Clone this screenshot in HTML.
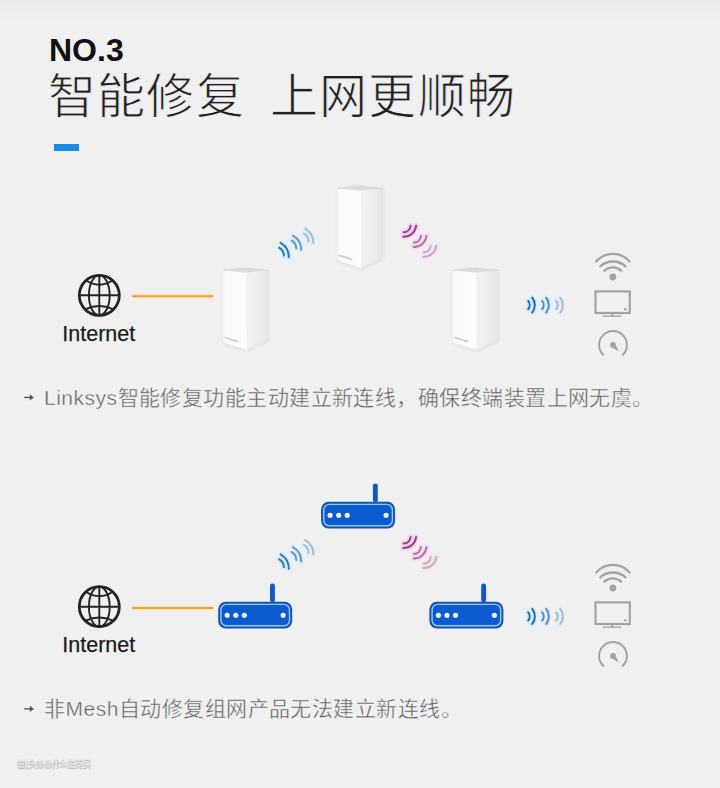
<!DOCTYPE html>
<html lang="zh-CN">
<head>
<meta charset="utf-8">
<style>
html,body{margin:0;padding:0;}
body{width:720px;height:788px;overflow:hidden;position:relative;
 background:linear-gradient(#e9e9e9 0px,#eeeeee 12px,#f0f0f0 22px,#f0f0f0 100%);
 font-family:"Liberation Sans",sans-serif;}
.t{position:absolute;white-space:nowrap;line-height:1;}
#no{left:49px;top:34px;font-size:32px;font-weight:bold;color:#111;}
#h1{left:48px;top:73px;font-size:48px;letter-spacing:1.2px;color:#222;-webkit-text-stroke:0.9px #f0f0f0;}
#h2{left:270px;top:73px;font-size:48px;letter-spacing:1.2px;color:#222;-webkit-text-stroke:0.9px #f0f0f0;}
#bar{position:absolute;left:54px;top:144px;width:25px;height:7px;background:#1a8be0;}
.inet{font-size:21.5px;color:#1c1c1c;-webkit-text-stroke:0.25px #1c1c1c;}
#in1{left:62.3px;top:324.3px;}
#in2{left:62.3px;top:635.45px;}
.cap{font-size:21px;color:#5e5e5e;letter-spacing:0.45px;-webkit-text-stroke:0.4px #f0f0f0;}
.cap b{font-weight:normal;letter-spacing:0.5px;}
#c1{left:44px;top:387px;}
#c2{left:44px;top:698px;}
#wm{left:16px;top:759.5px;font-size:8.6px;letter-spacing:-1.1px;color:#fbfbfb;text-shadow:0.5px 0.5px 1px #909090,0 0 1px #b4b4b4;}
svg{position:absolute;left:0;top:0;}
</style>
</head>
<body>
<div class="t" id="no">NO.3</div>
<div class="t" id="h1">智能修复</div>
<div class="t" id="h2">上网更顺畅</div>
<div id="bar"></div>

<svg width="720" height="788" viewBox="0 0 720 788">
<defs>
 <linearGradient id="gtop" x1="0" y1="0" x2="1" y2="0">
  <stop offset="0" stop-color="#e2e2e2"/>
  <stop offset="0.5" stop-color="#dadada"/>
  <stop offset="1" stop-color="#e2e2e2"/>
 </linearGradient>
 <linearGradient id="gright" x1="0" y1="0" x2="1" y2="0">
  <stop offset="0" stop-color="#f2f2f2"/>
  <stop offset="0.6" stop-color="#ececec"/>
  <stop offset="1" stop-color="#e5e5e5"/>
 </linearGradient>
 <filter id="sh" x="-20%" y="-20%" width="140%" height="140%">
  <feDropShadow dx="0" dy="0.5" stdDeviation="1.2" flood-color="#000" flood-opacity="0.10"/>
 </filter>
 <linearGradient id="gleft" x1="0" y1="0" x2="1" y2="0">
  <stop offset="0" stop-color="#f2f2f2"/>
  <stop offset="0.12" stop-color="#fafafa"/>
  <stop offset="1" stop-color="#fcfcfc"/>
 </linearGradient>
</defs>

<!-- diagram 1 -->
<g transform="translate(99.3,295.3)" fill="none" stroke="#242424">
  <circle cx="0" cy="0" r="20" stroke-width="2.8"/>
  <g stroke-width="1.9">
  <ellipse cx="0" cy="0" rx="10.4" ry="20"/>
  <line x1="0" y1="-20" x2="0" y2="20"/>
  <line x1="-20" y1="0" x2="20" y2="0"/>
  <path d="M-13.6,-15 Q0,-6.1 13.6,-15"/>
  <path d="M-13.6,13.9 Q0,7.6 13.6,13.9"/>
  </g>
 </g>
<line x1="132.2" y1="296.2" x2="213.2" y2="296.2" stroke="#fde4ad" stroke-width="4"/>
<line x1="132.2" y1="296.2" x2="213.2" y2="296.2" stroke="#eba13c" stroke-width="2"/>
<g transform="translate(222,269)">
  <g filter="url(#sh)">
  <path d="M0.6,1.4 L21.7,-1.2 L47.2,1.4 L47.2,70.4 Q47.2,72 45.6,72.6 L24.8,81.7 L4.2,75.4 Q0.6,74.2 0.6,71.2 Z" fill="#f6f6f6"/>
  </g>
  <path d="M0.6,1.4 L24.4,3.6 L24.8,81.7 L4.2,75.4 Q0.6,74.2 0.6,71.2 Z" fill="url(#gleft)"/>
  <path d="M24.4,3.6 L47.2,1.4 L47.2,70.4 Q47.2,72 45.6,72.6 L24.8,81.7 Z" fill="url(#gright)"/>
  <path d="M0.8,1.5 L22.5,-1 L47,1.5 L24.4,3.5 Z" fill="url(#gtop)"/>
  <path d="M1.2,1.5 L21.7,-0.8 L46.6,1.5" fill="none" stroke="#d2d2d2" stroke-width="0.8"/>
  <path d="M3.4,68.6 L15.4,72.4" stroke="#c9c9c9" stroke-width="2" stroke-linecap="round" opacity="0.85"/>
  <path d="M1.6,72.8 Q2.2,74.4 4.6,75.1 L24.5,81.2 L45.6,72.3" fill="none" stroke="#e0e0e0" stroke-width="0.9"/>
 </g>
<g transform="translate(336.3,187)">
  <g filter="url(#sh)">
  <path d="M0.6,1.4 L21.7,-1.2 L47.2,1.4 L47.2,70.4 Q47.2,72 45.6,72.6 L24.8,81.7 L4.2,75.4 Q0.6,74.2 0.6,71.2 Z" fill="#f6f6f6"/>
  </g>
  <path d="M0.6,1.4 L24.4,3.6 L24.8,81.7 L4.2,75.4 Q0.6,74.2 0.6,71.2 Z" fill="url(#gleft)"/>
  <path d="M24.4,3.6 L47.2,1.4 L47.2,70.4 Q47.2,72 45.6,72.6 L24.8,81.7 Z" fill="url(#gright)"/>
  <path d="M0.8,1.5 L22.5,-1 L47,1.5 L24.4,3.5 Z" fill="url(#gtop)"/>
  <path d="M1.2,1.5 L21.7,-0.8 L46.6,1.5" fill="none" stroke="#d2d2d2" stroke-width="0.8"/>
  <path d="M3.4,68.6 L15.4,72.4" stroke="#c9c9c9" stroke-width="2" stroke-linecap="round" opacity="0.85"/>
  <path d="M1.6,72.8 Q2.2,74.4 4.6,75.1 L24.5,81.2 L45.6,72.3" fill="none" stroke="#e0e0e0" stroke-width="0.9"/>
 </g>
<g transform="translate(451.8,269)">
  <g filter="url(#sh)">
  <path d="M0.6,1.4 L21.7,-1.2 L47.2,1.4 L47.2,70.4 Q47.2,72 45.6,72.6 L24.8,81.7 L4.2,75.4 Q0.6,74.2 0.6,71.2 Z" fill="#f6f6f6"/>
  </g>
  <path d="M0.6,1.4 L24.4,3.6 L24.8,81.7 L4.2,75.4 Q0.6,74.2 0.6,71.2 Z" fill="url(#gleft)"/>
  <path d="M24.4,3.6 L47.2,1.4 L47.2,70.4 Q47.2,72 45.6,72.6 L24.8,81.7 Z" fill="url(#gright)"/>
  <path d="M0.8,1.5 L22.5,-1 L47,1.5 L24.4,3.5 Z" fill="url(#gtop)"/>
  <path d="M1.2,1.5 L21.7,-0.8 L46.6,1.5" fill="none" stroke="#d2d2d2" stroke-width="0.8"/>
  <path d="M3.4,68.6 L15.4,72.4" stroke="#c9c9c9" stroke-width="2" stroke-linecap="round" opacity="0.85"/>
  <path d="M1.6,72.8 Q2.2,74.4 4.6,75.1 L24.5,81.2 L45.6,72.3" fill="none" stroke="#e0e0e0" stroke-width="0.9"/>
 </g>
<g fill="none" stroke-linecap="round">
  <g>
   <g stroke="#d3eefc" stroke-width="6" opacity="0.8">
    <path d="M280.6,242.9 A16.5,16.5 0 0 1 288.8,257.3"/>
    <path d="M279.3,247.8 A9.2,9.2 0 0 1 283.9,255.6"/>
   </g>
   <g stroke="#2a76bd" stroke-width="2">
    <path d="M280.6,242.9 A16.5,16.5 0 0 1 288.8,257.3"/>
    <path d="M279.3,247.8 A9.2,9.2 0 0 1 283.9,255.6"/>
   </g>
  </g>
  <g transform="translate(12.4,-7.2)">
   <g stroke="#d8eefa" stroke-width="6" opacity="0.7">
    <path d="M280.6,242.9 A16.5,16.5 0 0 1 288.8,257.3"/>
    <path d="M279.3,247.8 A9.2,9.2 0 0 1 283.9,255.6"/>
   </g>
   <g stroke="#6198c9" stroke-width="2">
    <path d="M280.6,242.9 A16.5,16.5 0 0 1 288.8,257.3"/>
    <path d="M279.3,247.8 A9.2,9.2 0 0 1 283.9,255.6"/>
   </g>
  </g>
  <g transform="translate(24.6,-14.3)">
   <g stroke="#e0eef7" stroke-width="6" opacity="0.6">
    <path d="M280.6,242.9 A16.5,16.5 0 0 1 288.8,257.3"/>
    <path d="M279.3,247.8 A9.2,9.2 0 0 1 283.9,255.6"/>
   </g>
   <g stroke="#a2bfd8" stroke-width="2">
    <path d="M280.6,242.9 A16.5,16.5 0 0 1 288.8,257.3"/>
    <path d="M279.3,247.8 A9.2,9.2 0 0 1 283.9,255.6"/>
   </g>
  </g>
 </g>
<g fill="none" stroke-linecap="round">
  <g>
   <g stroke="#f8d2f0" stroke-width="6" opacity="0.85">
    <path d="M416.1,225.7 A12.3,12.3 0 0 1 403.3,236.8"/>
    <path d="M410.6,225.7 A7,7 0 0 1 403.6,232.3"/>
   </g>
   <g stroke="#9b4089" stroke-width="2">
    <path d="M416.1,225.7 A12.3,12.3 0 0 1 403.3,236.8"/>
    <path d="M410.6,225.7 A7,7 0 0 1 403.6,232.3"/>
   </g>
  </g>
  <g transform="translate(10.3,10.3)">
   <g stroke="#f8d8f2" stroke-width="6" opacity="0.75">
    <path d="M416.1,225.7 A12.3,12.3 0 0 1 403.3,236.8"/>
    <path d="M410.6,225.7 A7,7 0 0 1 403.6,232.3"/>
   </g>
   <g stroke="#b174a8" stroke-width="2">
    <path d="M416.1,225.7 A12.3,12.3 0 0 1 403.3,236.8"/>
    <path d="M410.6,225.7 A7,7 0 0 1 403.6,232.3"/>
   </g>
  </g>
  <g transform="translate(20.2,20)">
   <g stroke="#f6e0f3" stroke-width="6" opacity="0.6">
    <path d="M416.1,225.7 A12.3,12.3 0 0 1 403.3,236.8"/>
    <path d="M410.6,225.7 A7,7 0 0 1 403.6,232.3"/>
   </g>
   <g stroke="#cfa6c8" stroke-width="2">
    <path d="M416.1,225.7 A12.3,12.3 0 0 1 403.3,236.8"/>
    <path d="M410.6,225.7 A7,7 0 0 1 403.6,232.3"/>
   </g>
  </g>
 </g>
<g fill="none" stroke-linecap="round">
  <g>
   <g stroke="#d3eefc" stroke-width="6" opacity="0.8">
    <path d="M528.2,300.9 A6.4,6.4 0 0 1 528.2,309.1"/>
    <path d="M532.2,297.5 A12,12 0 0 1 532.2,312.5"/>
   </g>
   <g stroke="#2068ad" stroke-width="2">
    <path d="M528.2,300.9 A6.4,6.4 0 0 1 528.2,309.1"/>
    <path d="M532.2,297.5 A12,12 0 0 1 532.2,312.5"/>
   </g>
  </g>
  <g transform="translate(14,0)">
   <g stroke="#d8eefa" stroke-width="6" opacity="0.7">
    <path d="M528.2,300.9 A6.4,6.4 0 0 1 528.2,309.1"/>
    <path d="M532.2,297.5 A12,12 0 0 1 532.2,312.5"/>
   </g>
   <g stroke="#5589bb" stroke-width="2">
    <path d="M528.2,300.9 A6.4,6.4 0 0 1 528.2,309.1"/>
    <path d="M532.2,297.5 A12,12 0 0 1 532.2,312.5"/>
   </g>
  </g>
  <g transform="translate(28,0)">
   <g stroke="#e0eef7" stroke-width="6" opacity="0.6">
    <path d="M528.2,300.9 A6.4,6.4 0 0 1 528.2,309.1"/>
    <path d="M532.2,297.5 A12,12 0 0 1 532.2,312.5"/>
   </g>
   <g stroke="#9fbad3" stroke-width="2">
    <path d="M528.2,300.9 A6.4,6.4 0 0 1 528.2,309.1"/>
    <path d="M532.2,297.5 A12,12 0 0 1 532.2,312.5"/>
   </g>
  </g>
 </g>
<g fill="none" stroke="#a4a4a4">
  <g stroke-width="2.3" stroke-linecap="round">
   <path d="M596.2,261.6 A22.1,22.1 0 0 1 629.6,261.6"/>
   <path d="M600.3,266.3 A18.9,18.9 0 0 1 625.5,266.3"/>
   <path d="M604.4,270.7 A12.3,12.3 0 0 1 621.2,270.7"/>
  </g>
  <circle cx="612.9" cy="277" r="3.4" fill="#a4a4a4" stroke="none"/>
  <rect x="595.5" y="291.4" width="34.3" height="21.6" stroke-width="2.2"/>
  <circle cx="625.3" cy="309.3" r="1.25" fill="#a4a4a4" stroke="none"/>
  <rect x="611.4" y="313.5" width="1.9" height="2.6" fill="#a4a4a4" stroke="none"/>
  <line x1="602.5" y1="316.2" x2="621.5" y2="316.2" stroke-width="1.3"/>
  <path d="M603.2,354.8 A13.9,13.9 0 1 1 622.8,354.8" stroke-width="2" stroke-linecap="round"/>
  <g fill="#a4a4a4" stroke="none">
   <circle cx="612.9" cy="344.8" r="2.9"/>
   <polygon points="610.7,346.7 615.1,343 618.6,351.6"/>
  </g>
 </g>

<!-- diagram 2 -->
<g transform="translate(99.3,606.7)" fill="none" stroke="#242424">
  <circle cx="0" cy="0" r="20" stroke-width="2.8"/>
  <g stroke-width="1.9">
  <ellipse cx="0" cy="0" rx="10.4" ry="20"/>
  <line x1="0" y1="-20" x2="0" y2="20"/>
  <line x1="-20" y1="0" x2="20" y2="0"/>
  <path d="M-13.6,-15 Q0,-6.1 13.6,-15"/>
  <path d="M-13.6,13.9 Q0,7.6 13.6,13.9"/>
  </g>
 </g>
<line x1="132.2" y1="608" x2="213.2" y2="608" stroke="#fde4ad" stroke-width="4"/>
<line x1="132.2" y1="608" x2="213.2" y2="608" stroke="#eba53e" stroke-width="2"/>
<g transform="translate(321.1,501.8)">
  <rect x="0" y="0" width="74" height="26.6" rx="7.5" fill="#1453b3"/>
  <rect x="2.7" y="2.6" width="68.6" height="21.4" rx="5.6" fill="#0c5bd0" stroke="#93cbf6" stroke-width="1.4"/>
  <rect x="51.8" y="-18.4" width="4.9" height="19" rx="2.45" fill="#1358c0"/>
  <g fill="#f4faff">
   <circle cx="9" cy="13.4" r="2.55"/>
   <circle cx="17.6" cy="13.4" r="2.55"/>
   <circle cx="26.1" cy="13.4" r="2.55"/>
   <circle cx="65" cy="13.4" r="2.55"/>
  </g>
 </g>
<g transform="translate(218.2,601.8)">
  <rect x="0" y="0" width="74" height="26.6" rx="7.5" fill="#1453b3"/>
  <rect x="2.7" y="2.6" width="68.6" height="21.4" rx="5.6" fill="#0c5bd0" stroke="#93cbf6" stroke-width="1.4"/>
  <rect x="51.8" y="-18.4" width="4.9" height="19" rx="2.45" fill="#1358c0"/>
  <g fill="#f4faff">
   <circle cx="9" cy="13.4" r="2.55"/>
   <circle cx="17.6" cy="13.4" r="2.55"/>
   <circle cx="26.1" cy="13.4" r="2.55"/>
   <circle cx="65" cy="13.4" r="2.55"/>
  </g>
 </g>
<g transform="translate(429.4,601.8)">
  <rect x="0" y="0" width="74" height="26.6" rx="7.5" fill="#1453b3"/>
  <rect x="2.7" y="2.6" width="68.6" height="21.4" rx="5.6" fill="#0c5bd0" stroke="#93cbf6" stroke-width="1.4"/>
  <rect x="51.8" y="-18.4" width="4.9" height="19" rx="2.45" fill="#1358c0"/>
  <g fill="#f4faff">
   <circle cx="9" cy="13.4" r="2.55"/>
   <circle cx="17.6" cy="13.4" r="2.55"/>
   <circle cx="26.1" cy="13.4" r="2.55"/>
   <circle cx="65" cy="13.4" r="2.55"/>
  </g>
 </g>
<g transform="translate(0,311.5)" fill="none" stroke-linecap="round">
  <g>
   <g stroke="#d3eefc" stroke-width="6" opacity="0.8">
    <path d="M280.6,242.9 A16.5,16.5 0 0 1 288.8,257.3"/>
    <path d="M279.3,247.8 A9.2,9.2 0 0 1 283.9,255.6"/>
   </g>
   <g stroke="#2a76bd" stroke-width="2">
    <path d="M280.6,242.9 A16.5,16.5 0 0 1 288.8,257.3"/>
    <path d="M279.3,247.8 A9.2,9.2 0 0 1 283.9,255.6"/>
   </g>
  </g>
  <g transform="translate(12.4,-7.2)">
   <g stroke="#d8eefa" stroke-width="6" opacity="0.7">
    <path d="M280.6,242.9 A16.5,16.5 0 0 1 288.8,257.3"/>
    <path d="M279.3,247.8 A9.2,9.2 0 0 1 283.9,255.6"/>
   </g>
   <g stroke="#6198c9" stroke-width="2">
    <path d="M280.6,242.9 A16.5,16.5 0 0 1 288.8,257.3"/>
    <path d="M279.3,247.8 A9.2,9.2 0 0 1 283.9,255.6"/>
   </g>
  </g>
  <g transform="translate(24.6,-14.3)">
   <g stroke="#e0eef7" stroke-width="6" opacity="0.6">
    <path d="M280.6,242.9 A16.5,16.5 0 0 1 288.8,257.3"/>
    <path d="M279.3,247.8 A9.2,9.2 0 0 1 283.9,255.6"/>
   </g>
   <g stroke="#a2bfd8" stroke-width="2">
    <path d="M280.6,242.9 A16.5,16.5 0 0 1 288.8,257.3"/>
    <path d="M279.3,247.8 A9.2,9.2 0 0 1 283.9,255.6"/>
   </g>
  </g>
 </g>
<g transform="translate(0,311.3)" fill="none" stroke-linecap="round">
  <g>
   <g stroke="#f8d2f0" stroke-width="6" opacity="0.85">
    <path d="M416.1,225.7 A12.3,12.3 0 0 1 403.3,236.8"/>
    <path d="M410.6,225.7 A7,7 0 0 1 403.6,232.3"/>
   </g>
   <g stroke="#9b4089" stroke-width="2">
    <path d="M416.1,225.7 A12.3,12.3 0 0 1 403.3,236.8"/>
    <path d="M410.6,225.7 A7,7 0 0 1 403.6,232.3"/>
   </g>
  </g>
  <g transform="translate(10.3,10.3)">
   <g stroke="#f8d8f2" stroke-width="6" opacity="0.75">
    <path d="M416.1,225.7 A12.3,12.3 0 0 1 403.3,236.8"/>
    <path d="M410.6,225.7 A7,7 0 0 1 403.6,232.3"/>
   </g>
   <g stroke="#b174a8" stroke-width="2">
    <path d="M416.1,225.7 A12.3,12.3 0 0 1 403.3,236.8"/>
    <path d="M410.6,225.7 A7,7 0 0 1 403.6,232.3"/>
   </g>
  </g>
  <g transform="translate(20.2,20)">
   <g stroke="#f6e0f3" stroke-width="6" opacity="0.6">
    <path d="M416.1,225.7 A12.3,12.3 0 0 1 403.3,236.8"/>
    <path d="M410.6,225.7 A7,7 0 0 1 403.6,232.3"/>
   </g>
   <g stroke="#cfa6c8" stroke-width="2">
    <path d="M416.1,225.7 A12.3,12.3 0 0 1 403.3,236.8"/>
    <path d="M410.6,225.7 A7,7 0 0 1 403.6,232.3"/>
   </g>
  </g>
 </g>
<g transform="translate(0,311.4)" fill="none" stroke-linecap="round">
  <g>
   <g stroke="#d3eefc" stroke-width="6" opacity="0.8">
    <path d="M528.2,300.9 A6.4,6.4 0 0 1 528.2,309.1"/>
    <path d="M532.2,297.5 A12,12 0 0 1 532.2,312.5"/>
   </g>
   <g stroke="#2068ad" stroke-width="2">
    <path d="M528.2,300.9 A6.4,6.4 0 0 1 528.2,309.1"/>
    <path d="M532.2,297.5 A12,12 0 0 1 532.2,312.5"/>
   </g>
  </g>
  <g transform="translate(14,0)">
   <g stroke="#d8eefa" stroke-width="6" opacity="0.7">
    <path d="M528.2,300.9 A6.4,6.4 0 0 1 528.2,309.1"/>
    <path d="M532.2,297.5 A12,12 0 0 1 532.2,312.5"/>
   </g>
   <g stroke="#5589bb" stroke-width="2">
    <path d="M528.2,300.9 A6.4,6.4 0 0 1 528.2,309.1"/>
    <path d="M532.2,297.5 A12,12 0 0 1 532.2,312.5"/>
   </g>
  </g>
  <g transform="translate(28,0)">
   <g stroke="#e0eef7" stroke-width="6" opacity="0.6">
    <path d="M528.2,300.9 A6.4,6.4 0 0 1 528.2,309.1"/>
    <path d="M532.2,297.5 A12,12 0 0 1 532.2,312.5"/>
   </g>
   <g stroke="#9fbad3" stroke-width="2">
    <path d="M528.2,300.9 A6.4,6.4 0 0 1 528.2,309.1"/>
    <path d="M532.2,297.5 A12,12 0 0 1 532.2,312.5"/>
   </g>
  </g>
 </g>
<g transform="translate(0,311)" fill="none" stroke="#a4a4a4">
  <g stroke-width="2.3" stroke-linecap="round">
   <path d="M596.2,261.6 A22.1,22.1 0 0 1 629.6,261.6"/>
   <path d="M600.3,266.3 A18.9,18.9 0 0 1 625.5,266.3"/>
   <path d="M604.4,270.7 A12.3,12.3 0 0 1 621.2,270.7"/>
  </g>
  <circle cx="612.9" cy="277" r="3.4" fill="#a4a4a4" stroke="none"/>
  <rect x="595.5" y="291.4" width="34.3" height="21.6" stroke-width="2.2"/>
  <circle cx="625.3" cy="309.3" r="1.25" fill="#a4a4a4" stroke="none"/>
  <rect x="611.4" y="313.5" width="1.9" height="2.6" fill="#a4a4a4" stroke="none"/>
  <line x1="602.5" y1="316.2" x2="621.5" y2="316.2" stroke-width="1.3"/>
  <path d="M603.2,354.8 A13.9,13.9 0 1 1 622.8,354.8" stroke-width="2" stroke-linecap="round"/>
  <g fill="#a4a4a4" stroke="none">
   <circle cx="612.9" cy="344.8" r="2.9"/>
   <polygon points="610.7,346.7 615.1,343 618.6,351.6"/>
  </g>
 </g>
<g fill="#565656">
  <rect x="24.2" y="396.7" width="6" height="1.4"/>
  <polygon points="29.8,394.3 33.8,397.4 29.8,400.5"/>
 </g>
<g transform="translate(0,311.5)" fill="#565656">
  <rect x="24.2" y="396.7" width="6" height="1.4"/>
  <polygon points="29.8,394.3 33.8,397.4 29.8,400.5"/>
 </g>
</svg>

<div class="t inet" id="in1">Internet</div>
<div class="t inet" id="in2">Internet</div>
<div class="t cap" id="c1"><b>Linksys</b>智能修复功能主动建立新连线，确保终端装置上网无虞。</div>
<div class="t cap" id="c2">非<b>Mesh</b>自动修复组网产品无法建立新连线。</div>
<div class="t" id="wm">值 | 头条@什么值得买</div>
</body>
</html>
